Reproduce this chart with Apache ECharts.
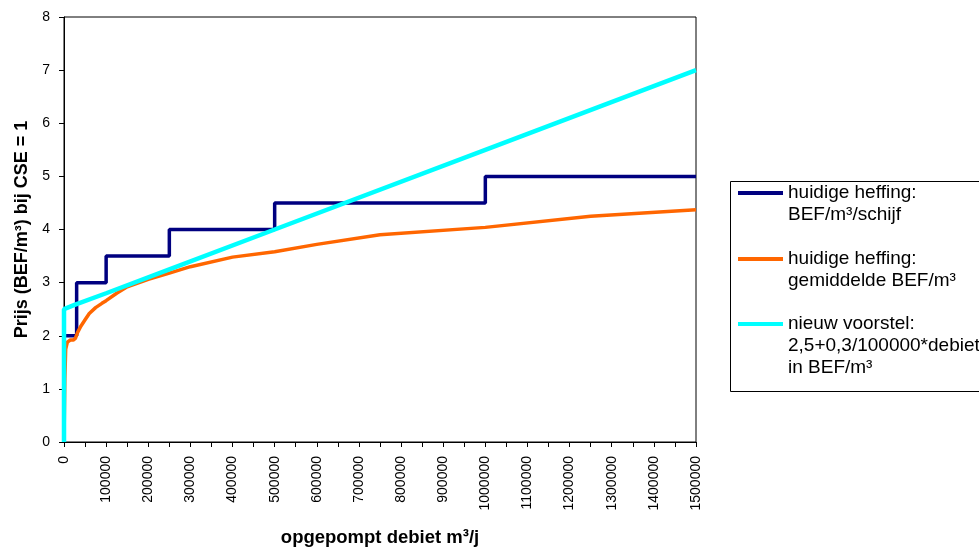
<!DOCTYPE html>
<html>
<head>
<meta charset="utf-8">
<script src="https://cdn.jsdelivr.net/npm/echarts@6/dist/echarts.min.js"></script>
<style>
html,body{margin:0;padding:0;background:#fff;}
#c{width:979px;height:554px;}
</style>
</head>
<body>
<div id="c"></div>
<script>
// ---- data ----
var seriesNames = [
  'huidige heffing:\nBEF/m³/schijf',
  'huidige heffing:\ngemiddelde BEF/m³',
  'nieuw voorstel:\n2,5+0,3/100000*debiet\nin BEF/m³'
];
// step tariff per tier (value holds from this x to the next x)
var tierX = [0, 30000, 100000, 250000, 500000, 1000000, 1500000];
var tierY = [2, 3, 3.5, 4, 4.5, 5, 5];
// average price curve
var avgX = [0, 2000, 4000, 8000, 15000, 22000, 27000, 32000, 40000, 50000, 60000, 75000, 90000, 100000, 125000, 150000, 200000, 250000, 300000, 400000, 500000, 600000, 750000, 1000000, 1250000, 1500000];
var avgY = [0, 1.2, 1.75, 1.88, 1.92, 1.92, 1.95, 2.06, 2.18, 2.3, 2.42, 2.53, 2.61, 2.66, 2.8, 2.92, 3.06, 3.18, 3.3, 3.48, 3.58, 3.72, 3.9, 4.04, 4.25, 4.37];
// proposal line
var propX = [0, 0, 25000, 100000, 250000, 500000, 1000000, 1500000];
var propY = [0, 2.5, 2.58, 2.8, 3.25, 4, 5.5, 7];
var xTitle = 'opgepompt debiet m³/j';
var yTitle = 'Prijs (BEF/m³) bij CSE = 1';

function pairs(xs, ys) { return xs.map(function (x, i) { return [x, ys[i]]; }); }

var colors = ['#000080', '#FF6600', '#00FFFF'];
var FONT = '"Liberation Sans", Arial, sans-serif';
var iconCenters = [193, 259, 324];

var legends = seriesNames.map(function (n, i) {
  var nLines = n.split('\n').length;
  var textLines = [];
  for (var k = 0; k < nLines - 1; k++) textLines.push(' ');
  var shown = textLines.concat(n.split('\n')).join('\n');
  var blockH = 22 * (2 * nLines - 1);
  return {
    data: [n],
    orient: 'vertical',
    left: 738,
    top: iconCenters[i] - blockH / 2,
    padding: 0,
    icon: 'rect',
    itemWidth: 45,
    itemHeight: 4,
    selectedMode: false,
    formatter: function () { return shown; },
    textStyle: {fontFamily: FONT, fontSize: 19, lineHeight: 22, color: '#000'}
  };
});

var chart = echarts.init(document.getElementById('c'), null, {renderer: 'canvas'});
chart.setOption({
  animation: false,
  backgroundColor: '#fff',
  textStyle: {fontFamily: FONT},
  grid: {left: 64, top: 17, width: 632, height: 425, show: true, borderColor: '#000', borderWidth: 1, backgroundColor: 'transparent'},
  legend: legends,
  graphic: [{
    type: 'rect', left: 728, top: 179, z: 0,
    shape: {x: 0, y: 0, width: 300, height: 210},
    style: {fill: 'none', stroke: '#000', lineWidth: 1}
  }],
  xAxis: {
    type: 'value', min: 0, max: 1500000, interval: 100000,
    name: xTitle, nameLocation: 'middle', nameGap: 86,
    nameTextStyle: {fontFamily: FONT, fontSize: 18.5, fontWeight: 'bold', color: '#000'},
    axisLine: {lineStyle: {color: '#000', width: 1}},
    axisTick: {show: true, inside: false, length: 5, lineStyle: {color: '#000'}},
    minorTick: {show: true, splitNumber: 2, length: 5, lineStyle: {color: '#000'}},
    axisLabel: {rotate: 90, margin: 14, fontSize: 14, color: '#000', fontFamily: FONT,
      formatter: function (v) { return String(v); }},
    splitLine: {show: false}
  },
  yAxis: {
    type: 'value', min: 0, max: 8, interval: 1,
    name: yTitle, nameLocation: 'middle', nameGap: 33, nameRotate: 90,
    nameTextStyle: {fontFamily: FONT, fontSize: 18, fontWeight: 'bold', color: '#000'},
    axisLine: {show: true, lineStyle: {color: '#000', width: 1}},
    axisTick: {show: true, inside: false, length: 5, lineStyle: {color: '#000'}},
    axisLabel: {margin: 14, fontSize: 14, color: '#000', fontFamily: FONT},
    splitLine: {show: false}
  },
  series: [
    {name: seriesNames[0], type: 'line', step: 'end', data: pairs(tierX, tierY), showSymbol: false, clip: false,
     lineStyle: {color: colors[0], width: 3.5}, itemStyle: {color: colors[0]}},
    {name: seriesNames[1], type: 'line', data: pairs(avgX, avgY), showSymbol: false, clip: false,
     lineStyle: {color: colors[1], width: 3.5}, itemStyle: {color: colors[1]}},
    {name: seriesNames[2], type: 'line', data: pairs(propX, propY), showSymbol: false, clip: false,
     lineStyle: {color: colors[2], width: 4.5}, itemStyle: {color: colors[2]}}
  ]
});
</script>
</body>
</html>
